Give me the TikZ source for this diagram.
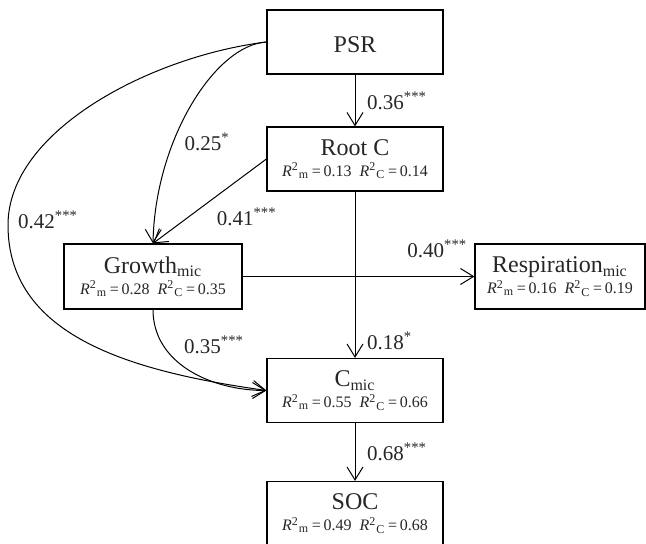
\documentclass[tikz,border=0pt]{standalone}
\usepackage{fontspec}
\setmainfont{Liberation Serif}
\usetikzlibrary{positioning,arrows.meta}
\newcommand{\rsq}[2]{{\fontsize{8}{9}\selectfont\textit{R}\textsuperscript{2}\textsubscript{m}\,=\,#1\enskip\textit{R}\textsuperscript{2}\textsubscript{C}\,=\,#2}}
\newcommand{\sig}[1]{\textsuperscript{#1}}
\begin{document}
\begin{tikzpicture}[
    x=0.5pt,y=0.5pt,line width=0.5pt,
    box/.style={draw,line width=0.6pt,align=center,minimum width=88pt,minimum height=32pt,inner sep=2pt,
        font=\fontsize{12}{10.5}\selectfont,text=black!85,execute at begin node=\rule{0pt}{10.5pt}},
    lab/.style={font=\fontsize{10.5}{12}\selectfont,text=black!85},
    >={Straight Barb[length=6.5pt,width=8pt]}
]
\useasboundingbox (0,0) rectangle (646,-544);

\node[box] (psr) at (355,-42) {PSR};
\node[box] (root) at (355,-159) {Root C\\\rsq{0.13}{0.14}};
\node[box,minimum width=89pt,minimum height=32.5pt] (growth) at (153,-276.5) {Growth\textsubscript{mic}\\\rsq{0.28}{0.35}};
\node[box,minimum width=85pt,minimum height=32.5pt] (resp) at (560,-276.5) {Respiration\textsubscript{mic}\\\rsq{0.16}{0.19}};
\node[box] (cmic) at (355,-390.5) {C\textsubscript{mic}\\\rsq{0.55}{0.66}};
\node[box] (soc) at (355,-513.5) {SOC\\\rsq{0.49}{0.68}};
\coordinate (bend) at (8,-225);

% direct paths
\draw[->] (psr) -- node[lab,right=2.5pt]{0.36\sig{***}} (root);
\draw[->] (root) -- node[lab,pos=0.9,right=2.5pt]{0.18\sig{*}} (cmic);
\draw[->] (cmic) -- node[lab,right=2.5pt]{0.68\sig{***}} (soc);
\draw[->] (growth) -- node[lab,pos=1,above left=6pt and 0pt]{0.40\sig{***}} (resp);
\draw[->] (root.west) -- node[lab,below right]{0.41\sig{***}} (growth.north);

% curved paths
\draw[->] (psr.west) .. controls (215,-45) and (155,-140) .. node[lab,pos=0.65,right=2pt]{0.25\sig{*}} (growth.north);
\draw[->] (psr.west) to[out=187,in=90,out distance=57.5pt,in distance=47.5pt] (bend)
    node[lab,right=1.5pt,yshift=2.5pt]{0.42\sig{***}}
    to[out=-90,in=172,out distance=55pt,in distance=70pt] (cmic.west);
\draw[->] (growth.south) to[out=-90,in=180] node[lab,pos=0.25,right=7pt]{0.35\sig{***}} (cmic.west);
\end{tikzpicture}
\end{document}
